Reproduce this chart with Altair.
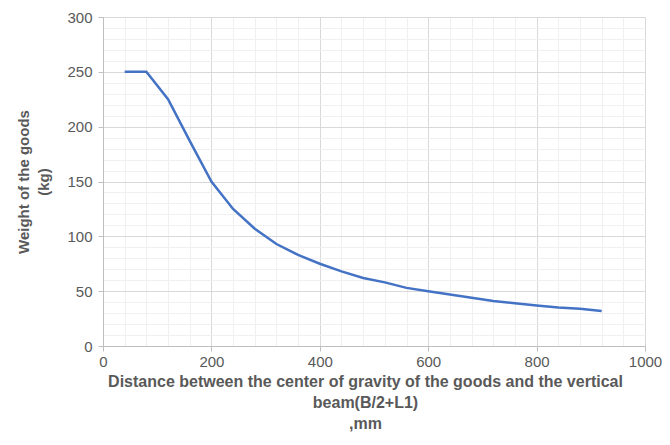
import altair as alt
import pandas as pd

distance_mm = [40, 80, 120, 160, 200, 240, 280, 320, 360, 400, 440, 480,
               520, 560, 600, 640, 680, 720, 760, 800, 840, 880, 920]
weight_kg = [250, 250, 225, 187, 150, 125, 107, 93, 83, 75, 68, 62,
             58, 53, 50, 47, 44, 41, 39, 37, 35, 34, 32]

df = pd.DataFrame({"d": distance_mm, "w": weight_kg})

FONT = "Liberation Sans"
GRAY = "#595959"
MAJ = "#D9D9D9"
MIN = "#F0F0F0"

x_grid = list(range(0, 1001, 40))
y_grid = list(range(0, 301, 10))

x_axis = alt.Axis(
    values=x_grid, format="d",
    title=["Distance between the center of gravity of the goods and the vertical",
           "beam(B/2+L1)", ",mm"],
    titleFont=FONT, titleFontSize=16, titleFontWeight="bold", titleColor=GRAY,
    titleLineHeight=21, titlePadding=4, titleX=262, titleAlign="center",
    labelExpr="datum.value % 200 === 0 ? datum.label : ''",
    labelFont=FONT, labelFontSize=15, labelColor=GRAY, labelPadding=3,
    labelFlush=False,
    gridColor={"condition": {"test": "datum.value % 200 === 0", "value": MAJ}, "value": MIN},
    tickColor={"condition": {"test": "datum.value % 200 === 0", "value": "#BFBFBF"}, "value": "transparent"},
    tickSize=5, domainColor="#BFBFBF",
)
y_axis = alt.Axis(
    values=y_grid, format="d",
    title=["Weight of the goods", "(kg)"],
    titleFont=FONT, titleFontSize=15, titleFontWeight="bold", titleColor=GRAY,
    titleLineHeight=20, titlePadding=15,
    labelExpr="datum.value % 50 === 0 ? datum.label : ''",
    labelFont=FONT, labelFontSize=15, labelColor=GRAY, labelPadding=6,
    gridColor={"condition": {"test": "datum.value % 50 === 0", "value": MAJ}, "value": MIN},
    tickColor={"condition": {"test": "datum.value % 50 === 0", "value": "#BFBFBF"}, "value": "transparent"},
    tickSize=5, domainColor="#BFBFBF",
)

chart = alt.Chart(df).mark_line(color="#4472C4", strokeWidth=2.5).encode(
    x=alt.X("d:Q", scale=alt.Scale(domain=[0, 1000], nice=False), axis=x_axis),
    y=alt.Y("w:Q", scale=alt.Scale(domain=[0, 300], nice=False), axis=y_axis),
).properties(
    width=542, height=329,
    autosize=alt.AutoSizeParams(type="none"),
    padding={"left": 95, "top": 9, "right": 17, "bottom": 91},
).configure_view(stroke=None).configure(background="white")

chart.save("out.html", embed_options={"renderer": "svg", "actions": False})
